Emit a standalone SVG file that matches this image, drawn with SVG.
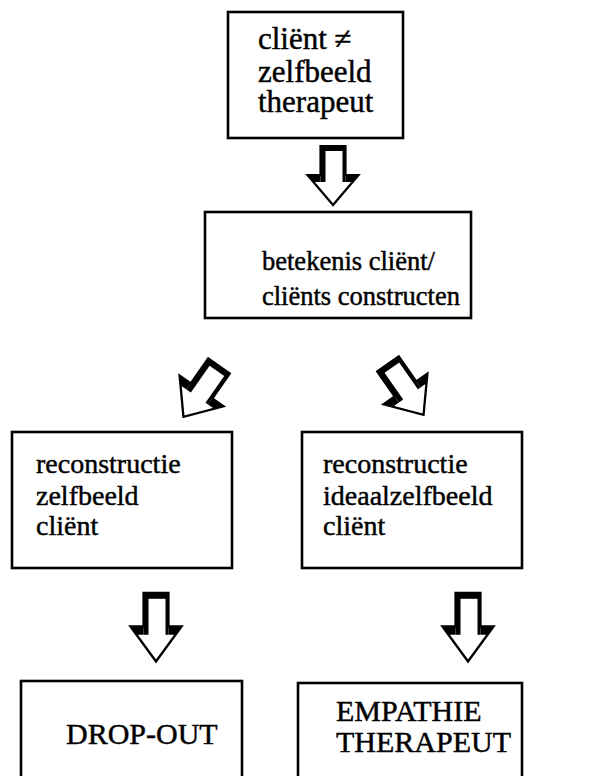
<svg xmlns="http://www.w3.org/2000/svg" xmlns:xlink="http://www.w3.org/1999/xlink" width="609" height="776" viewBox="0 0 609 776">
  <style>
    .box { fill: #ffffff; stroke: #000000; stroke-width: 2.6; }
    .lbl { font-family: "Liberation Serif", "Times New Roman", serif; fill: #000000; stroke: #000000; stroke-width: 0.45; }
    .arrow-outline { fill: #ffffff; stroke: #000000; stroke-width: 2.2; stroke-linejoin: miter; }
    .arrow-shade { fill: #000000; }
  </style>
  <defs>
    <!-- hollow block arrow pointing down, tail at (0,0), tip at (0,59) -->
    <g id="blockArrow">
      <polygon class="arrow-outline" points="-12.5,0 12.5,0 12.5,29 25.5,29 0,59 -25.5,29 -12.5,29"/>
      <rect class="arrow-shade" x="-12.5" y="0" width="25" height="5"/>
      <rect class="arrow-shade" x="-12.5" y="0" width="5" height="36"/>
      <rect class="arrow-shade" x="9.5" y="0" width="3" height="36"/>
      <polygon class="arrow-shade" points="-25.5,29 -12.5,29 -12.5,36 -19.5,36"/>
      <polygon class="arrow-shade" points="12.5,29 25.5,29 19.5,36 12.5,36"/>
    </g>
  </defs>

  <rect x="0" y="0" width="609" height="776" fill="#ffffff"/>

  <!-- connectors -->
  <g id="connectors">
    <use xlink:href="#blockArrow" transform="translate(333,146)"/>
    <use xlink:href="#blockArrow" transform="translate(219,366) rotate(35) scale(1.05)"/>
    <use xlink:href="#blockArrow" transform="translate(388,364) rotate(-35) scale(1.05)"/>
    <use xlink:href="#blockArrow" transform="translate(156,593) scale(1,1.16)"/>
    <use xlink:href="#blockArrow" transform="translate(468,593) scale(1,1.16)"/>
  </g>

  <g id="node-top">
    <rect class="box" x="228" y="12" width="175" height="126"/>
    <text class="lbl" font-size="31" x="258" y="49">cliënt ≠</text>
    <text class="lbl" font-size="31" x="258" y="82">zelfbeeld</text>
    <text class="lbl" font-size="31" x="258" y="112">therapeut</text>
  </g>

  <g id="node-betekenis">
    <rect class="box" x="205" y="212" width="266" height="106"/>
    <text class="lbl" font-size="26.5" x="262" y="270">betekenis cliënt/</text>
    <text class="lbl" font-size="26.5" x="262" y="305">cliënts constructen</text>
  </g>

  <g id="node-zelfbeeld">
    <rect class="box" x="12" y="432" width="220" height="136"/>
    <text class="lbl" font-size="28" x="36" y="473">reconstructie</text>
    <text class="lbl" font-size="28" x="36" y="505">zelfbeeld</text>
    <text class="lbl" font-size="28" x="36" y="535">cliënt</text>
  </g>

  <g id="node-ideaalzelfbeeld">
    <rect class="box" x="302" y="432" width="220" height="136"/>
    <text class="lbl" font-size="28" x="323" y="473">reconstructie</text>
    <text class="lbl" font-size="28" x="323" y="505">ideaalzelfbeeld</text>
    <text class="lbl" font-size="28" x="323" y="535">cliënt</text>
  </g>

  <g id="node-dropout">
    <rect class="box" x="21" y="681" width="221" height="110"/>
    <text class="lbl" font-size="30" x="66" y="744">DROP-OUT</text>
  </g>

  <g id="node-empathie">
    <rect class="box" x="298" y="683" width="224" height="110"/>
    <text class="lbl" font-size="30" x="336" y="721">EMPATHIE</text>
    <text class="lbl" font-size="30" x="336" y="752">THERAPEUT</text>
  </g>
</svg>
